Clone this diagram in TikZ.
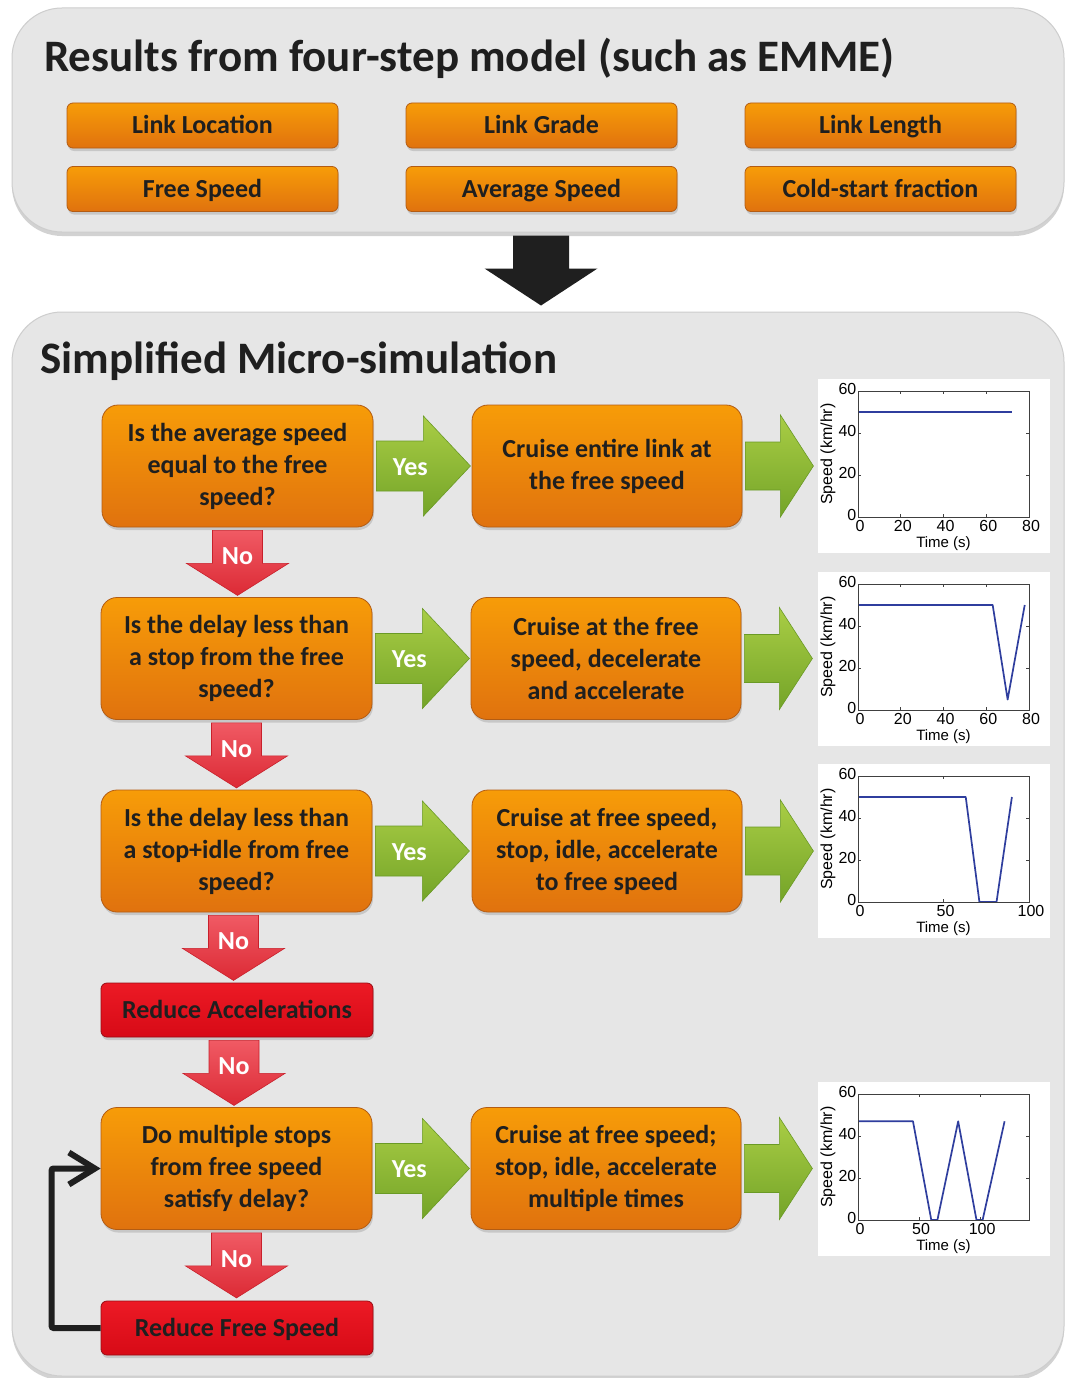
\documentclass[tikz,border=0pt]{standalone}
\usepackage{fontspec}
\setmainfont{Carlito}
\newfontfamily\chartfont{Liberation Sans}
\usetikzlibrary{calc,shadows,arrows.meta}
\definecolor{orTop}{HTML}{F79C08}
\definecolor{orBot}{HTML}{E0720E}
\definecolor{orLine}{HTML}{B35C14}
\definecolor{rdTop}{HTML}{EC1A25}
\definecolor{rdBot}{HTML}{D70A16}
\definecolor{rdLine}{HTML}{9A0C14}
\definecolor{grTop}{HTML}{A9CD45}
\definecolor{grBot}{HTML}{74A428}
\definecolor{grLine}{HTML}{6A9A25}
\definecolor{naTop}{HTML}{F05A64}
\definecolor{naBot}{HTML}{DC2A35}
\definecolor{naLine}{HTML}{C8202B}
\definecolor{panelFill}{HTML}{E6E6E6}
\definecolor{panelLine}{HTML}{CDCDCD}
\definecolor{ink}{HTML}{1F1F1F}
\definecolor{plotBlue}{HTML}{2F3E9E}
\newcommand\BArR[6]{\path[#6] #1 ++(0,{-#3}) -- ++({#2-#5},0) -- ++(0,{-(#4-#3)}) -- ++(#5,#4) -- ++({-#5},#4) -- ++(0,{-(#4-#3)}) -- ++({-(#2-#5)},0) -- cycle;}
\newcommand\BArD[6]{\path[#6] #1 ++({-#3},0) -- ++(0,{#2-#5}) -- ++({-(#4-#3)},0) -- ++(#4,#5) -- ++(#4,{-#5}) -- ++({-(#4-#3)},0) -- ++(0,{-(#2-#5)}) -- cycle;}
\newcommand\speedchart[5]{%
  \node[chartbg] (#1) at (934,{#2+87}) {};
  \begin{scope}[shift={(858,{#2+138})}, x={({171pt/#3},0pt)}, y={(0pt,2.1pt)}]
    \draw[plotline] #5;
    \draw[axisbox] (0,0) rectangle (#3,60);
    \foreach \t in {#4} {
      \draw[axisbox] (\t,0) -- ++(0pt,3pt) (\t,60) -- ++(0pt,-3pt);
      \node[ticklbl, anchor=north] at ($(\t,0)+(2pt,-3.5pt)$) {\t};
    }
    \foreach \v in {0,20,40,60} {
      \draw[axisbox] (0,\v) -- ++(3pt,0pt) (#3,\v) -- ++(-3pt,0pt);
      \node[ticklbl, anchor=east] at ($(0,\v)+(-1.5pt,2pt)$) {\v};
    }
    \node[axlbl] at ($({#3/2},0)+(0pt,-27pt)$) {Time (s)};
    \node[axlbl, font=\chartfont\fontsize{16}{16}\selectfont, rotate=90] at ($(0,30)+(-30pt,0pt)$) {Speed (km/hr)};
  \end{scope}}
\tikzset{
  panel/.style={rounded corners=50pt, fill=panelFill, draw=panelLine, line width=1pt, inner sep=0pt,
    drop shadow={opacity=0.35, shadow xshift=0pt, shadow yshift=-4pt}},
  htitle/.style={font=\bfseries\fontsize{45}{54}\selectfont, text=ink, inner sep=0pt},
  ibox/.style={rounded corners=6pt, top color=orTop, bottom color=orBot, draw=orLine, line width=0.8pt,
    minimum width=271pt, minimum height=45pt, inner sep=0pt, text=ink,
    text height=20pt, text depth=4pt,
    font=\bfseries\fontsize{26}{30}\selectfont,
    drop shadow={opacity=0.3, shadow xshift=1pt, shadow yshift=-3pt}},
  qbox/.style={rounded corners=16pt, top color=orTop, bottom color=orBot, draw=orLine, line width=0.8pt,
    minimum width=271pt, minimum height=122pt, inner sep=0pt, text=ink, align=center,
    font=\bfseries\fontsize{26}{32}\selectfont,
    drop shadow={opacity=0.3, shadow xshift=1pt, shadow yshift=-3pt}},
  rbox/.style={rounded corners=6pt, top color=rdTop, bottom color=rdBot, draw=rdLine, line width=0.8pt,
    minimum width=272pt, minimum height=54pt, inner sep=0pt, text=ink,
    text height=20pt, text depth=3pt,
    font=\bfseries\fontsize{26}{30}\selectfont,
    drop shadow={opacity=0.3, shadow xshift=1pt, shadow yshift=-3pt}},
  yesarr/.style={top color=grTop, bottom color=grBot, draw=grLine, line width=0.6pt},
  noarr/.style={top color=naTop, bottom color=naBot, draw=naLine, line width=0.6pt},
  bigarr/.style={fill=ink},
  lbl/.style={text=white, font=\bfseries\fontsize{26}{30}\selectfont, inner sep=0pt},
  fb/.style={draw=ink, line width=6pt, rounded corners=2pt, -{Straight Barb[length=26pt,width=32pt]}},
  chartbg/.style={fill=white, minimum width=232pt, minimum height=174pt, inner sep=0pt},
  plotline/.style={draw=plotBlue, line width=1.7pt, line join=round},
  axisbox/.style={draw=black!75, line width=0.6pt},
  ticklbl/.style={font=\chartfont\fontsize{16}{16}\selectfont, inner sep=0pt},
  axlbl/.style={font=\chartfont\fontsize{15}{15}\selectfont, inner sep=0pt}
}
\begin{document}
\begin{tikzpicture}[x=1pt,y=-1pt]
\useasboundingbox (0,0) rectangle (1067,1378);
\fill[white] (0,0) rectangle (1067,1378);

% panels
\node[panel, minimum width=1052pt, minimum height=224pt] (p1) at (538,120) {};
\node[panel, minimum width=1052pt, minimum height=1064pt] (p2) at (538,844) {};

\node[htitle, anchor=base west] (h1) at (44,72) {Results from four-step model (such as EMME)};
\node[htitle, anchor=base west] (h2) at (40,373) {Simplified Micro-simulation};

% top input boxes
\node[ibox] (t1) at (202.5,125.5) {Link Location};
\node[ibox] (t2) at (541.5,125.5) {Link Grade};
\node[ibox] (t3) at (880.5,125.5) {Link Length};
\node[ibox] (t4) at (202.5,189) {Free Speed};
\node[ibox] (t5) at (541.5,189) {Average Speed};
\node[ibox] (t6) at (880.5,189) {Cold-start fraction};

% big arrow between panels
\BArD{($(p1.south)+(3,3)$)}{70}{28}{56.5}{37}{bigarr}

% decision boxes
\node[qbox] (q1) at (237.5,466) {Is the average speed\\equal to the free\\speed?};
\node[qbox] (q2) at (236.5,658.5) {Is the delay less than\\a stop from the free\\speed?};
\node[qbox] (q3) at (236.5,851) {Is the delay less than\\a stop+idle from free\\speed?};
\node[rbox] (r4) at (237,1010) {Reduce Accelerations};
\node[qbox] (q5) at (236.5,1168.5) {Do multiple stops\\from free speed\\satisfy delay?};
\node[rbox] (r6) at (237,1328) {Reduce Free Speed};

% action boxes
\node[qbox, minimum width=270pt] (a1) at (607,466) {Cruise entire link at\\the free speed};
\node[qbox, minimum width=270pt] (a2) at (606,658.5) {Cruise at the free\\speed, decelerate\\and accelerate};
\node[qbox, minimum width=270pt] (a3) at (607,851) {Cruise at free speed,\\stop, idle, accelerate\\to free speed};
\node[qbox, minimum width=270pt] (a5) at (606,1168.5) {Cruise at free speed;\\stop, idle, accelerate\\multiple times};

% yes arrows
\BArR{($(q1.east)+(3,0)$)}{94}{25}{50}{47}{yesarr}
\BArR{($(q2.east)+(3,0)$)}{94}{25}{50}{47}{yesarr}
\BArR{($(q3.east)+(3,0)$)}{94}{25}{50}{47}{yesarr}
\BArR{($(q5.east)+(3,0)$)}{94}{25}{50}{47}{yesarr}
\node[lbl] (y1) at ($(q1.east)+(37,1)$) {Yes};
\node[lbl] (y2) at ($(q2.east)+(37,1)$) {Yes};
\node[lbl] (y3) at ($(q3.east)+(37,1)$) {Yes};
\node[lbl] (y5) at ($(q5.east)+(37,1)$) {Yes};

% arrows to charts
\BArR{($(a1.east)+(3,0)$)}{68}{24}{51}{33}{yesarr}
\BArR{($(a2.east)+(3,0)$)}{68}{24}{51}{33}{yesarr}
\BArR{($(a3.east)+(3,0)$)}{68}{24}{51}{33}{yesarr}
\BArR{($(a5.east)+(3,0)$)}{68}{24}{51}{33}{yesarr}

% no arrows
\BArD{($(q1.south)+(0,3)$)}{65}{25}{51}{32}{noarr}
\BArD{($(q2.south)+(0,3)$)}{65}{25}{51}{32}{noarr}
\BArD{($(q3.south)+(-3,3)$)}{65}{25}{51}{32}{noarr}
\BArD{($(r4.south)+(-3,3)$)}{65}{25}{51}{32}{noarr}
\BArD{($(q5.south)+(0,3)$)}{65}{25}{51}{32}{noarr}
\node[lbl] (n1) at ($(q1.south)+(0,29)$) {No};
\node[lbl] (n2) at ($(q2.south)+(0,29)$) {No};
\node[lbl] (n3) at ($(q3.south)+(-3,29)$) {No};
\node[lbl] (n4) at ($(r4.south)+(-3,29)$) {No};
\node[lbl] (n5) at ($(q5.south)+(0,29)$) {No};

% feedback loop
\draw[fb] (r6.west) -- ++(-49,0) |- (q5.west);

% charts
\speedchart{c1}{379}{80}{0,20,40,60,80}{(0,50) -- (72,50)}
\speedchart{c2}{572}{80}{0,20,40,60,80}{(0,50) -- (63,50) -- (70,5) -- (78,50)}
\speedchart{c3}{764}{100}{0,50,100}{(0,50) -- (63,50) -- (71,0) -- (81,0) -- (90,50)}
\speedchart{c4}{1082}{140}{0,50,100}{(0,47) -- (45,47) -- (60,0) -- (65,0) -- (82,47) -- (97,0) -- (102,0) -- (120,47)}
\end{tikzpicture}
\end{document}
